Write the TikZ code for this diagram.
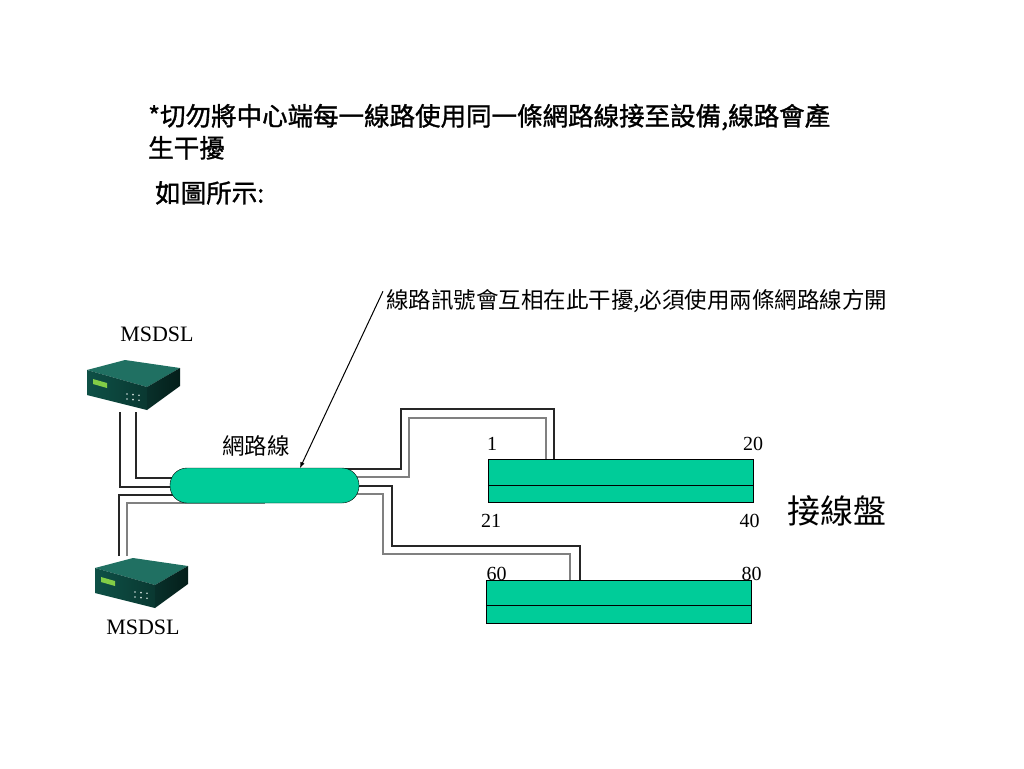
\documentclass[tikz,border=0pt]{standalone}
\usepackage{fontspec}
\setmainfont{Liberation Serif}
\newfontfamily\cjk{Noto Sans CJK TC}
\newfontfamily\cjkbold[FakeBold=1.2]{Noto Sans CJK TC}
\usetikzlibrary{arrows,calc,backgrounds}
\definecolor{panelgreen}{RGB}{0,204,153}
\definecolor{boxtop}{RGB}{32,112,98}
\definecolor{boxfront}{RGB}{14,80,70}
\definecolor{boxside}{RGB}{4,30,26}
\definecolor{lcd}{RGB}{130,205,70}
\tikzset{
  wire/.style={line width=1.2pt,black!85},
  wiregray/.style={line width=1.2pt,gray},
  panel/.style={draw,fill=panelgreen,minimum width=265pt,minimum height=43pt,inner sep=0pt},
  num/.style={font=\fontsize{20}{20}\selectfont,inner sep=0pt,anchor=base},
  modem/.pic={
    \fill[boxtop] (0,10) -- (38,0) -- (93,8) -- (60,27) -- cycle;
    \shade[left color=boxfront,right color=boxfront!70!black] (0,10) -- (60,27) -- (60,50) -- (0,35) -- cycle;
    \shade[left color=boxfront!60!black,right color=boxside] (60,27) -- (93,8) -- (93,26) -- (60,50) -- cycle;
    \fill[lcd] (6,19) -- (20,23) -- (20,28) -- (6,24) -- cycle;
    \foreach \u in {40,46,52} {
      \fill[white!80!boxfront] (\u,30+\u/10) circle (0.9);
      \fill[white!80!boxfront] (\u,35+\u/10) circle (0.9);
    }
  }
}
\begin{document}
\begin{tikzpicture}[x=1pt,y=-1pt]
\useasboundingbox (0,0) rectangle (1024,768);

% heading
\node[anchor=base west,inner sep=0pt,font=\cjkbold\fontsize{25.5}{32}\selectfont] (title1) at (148,125.5)
  {*切勿將中心端每一線路使用同一條網路線接至設備,線路會產};
\node[anchor=base west,inner sep=0pt,font=\cjkbold\fontsize{25.5}{32}\selectfont] (title2) at (148,157.5) {生干擾};
\node[anchor=base west,inner sep=0pt,font=\cjkbold\fontsize{25.5}{32}\selectfont] (shown) at (155,202.5) {如圖所示:};

% modems
\pic (mtop) at (87,360) {modem};
\pic (mbot) at (95,558) {modem};
\node[anchor=base,font=\fontsize{22}{22}\selectfont] (lbltop) at (157,341.5) {MSDSL};
\node[anchor=base,font=\fontsize{22}{22}\selectfont] (lblbot) at (143,634) {MSDSL};
\coordinate (ptopA) at (120,412);
\coordinate (ptopB) at (136,412);
\coordinate (pbotA) at (119,556);
\coordinate (pbotB) at (127,556);

% cable and patch panels
\node[draw,fill=panelgreen,minimum width=189pt,minimum height=35pt,rounded corners=17pt,inner sep=0pt] (cable) at (264.5,485.5) {};
\node[anchor=base,font=\cjk\fontsize{22.5}{22.5}\selectfont,inner sep=0pt] (cablelbl) at (256,454.5) {網路線};

\node[panel] (panelA) at (620.5,480.5) {};
\draw ($(panelA.north west)!0.6!(panelA.south west)$) -- ($(panelA.north east)!0.6!(panelA.south east)$);
\node[panel] (panelB) at (618.5,601.5) {};
\draw ($(panelB.north west)!0.58!(panelB.south west)$) -- ($(panelB.north east)!0.58!(panelB.south east)$);
\coordinate (portA1) at (554,459);
\coordinate (portA2) at (546,459);
\coordinate (portB1) at (580,580);
\coordinate (portB2) at (570,580);

\node[num] (n1) at (492,450.5) {1};
\node[num] (n20) at (753,450.5) {20};
\node[num] (n21) at (491,527) {21};
\node[num] (n40) at (749.5,527) {40};
\node[num] (n60) at (496.5,580) {60};
\node[num] (n80) at (751.5,580) {80};
\node[anchor=base,font=\cjk\fontsize{33}{33}\selectfont,inner sep=0pt] (rack) at (837,523.5) {接線盤};

% wires behind the cable
\begin{scope}[on background layer]
\fill[white] (0,0) rectangle (1024,768);
\draw[wire] (ptopA) |- ($(cable.center)+(0,1.5)$);
\draw[wire] (ptopB) |- ($(cable.center)+(0,-7.5)$);
\draw[wire] (pbotA) |- ($(cable.center)+(0,9.5)$);
\draw[wiregray] (pbotB) |- ($(cable.center)+(0,17.5)$);
\draw[wire] ($(cable.center)+(0,-16.5)$) -| (401,409) -| (portA1);
\draw[wiregray] ($(cable.center)+(0,-8.5)$) -| (409,418) -| (portA2);
\draw[wire] ($(cable.center)+(0,0.5)$) -| (392,546) -| (portB1);
\draw[wiregray] ($(cable.center)+(0,8.5)$) -| (383,554) -| (portB2);
\end{scope}

% note
\node[anchor=base west,font=\cjk\fontsize{22.5}{22.5}\selectfont,inner sep=0pt] (note) at (386,308.5)
  {線路訊號會互相在此干擾,必須使用兩條網路線方開};
\coordinate (hit) at (300,468);
\draw[->,>=latex,line width=1pt] ($(note.north west)+(-3,2)$) -- (hit);
\end{tikzpicture}
\end{document}
